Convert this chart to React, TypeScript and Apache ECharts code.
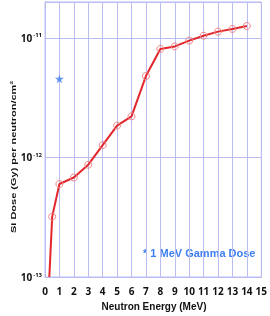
import React, { useEffect, useRef } from 'react';
import * as echarts from 'echarts';

// Neutron energy (MeV) and Si dose (Gy per neutron/cm^2)
const energies = [0.3, 0.5, 1, 2, 3, 4, 5, 6, 7, 8, 9, 10, 11, 12, 13, 14];
const doses = [1.0e-13, 3.2e-13, 6.0e-13, 6.8e-13, 8.7e-13, 1.27e-12, 1.85e-12, 2.21e-12, 4.8e-12, 8.1e-12, 8.5e-12, 9.5e-12, 1.045e-11, 1.13e-11, 1.19e-11, 1.26e-11];
const gammaEnergy = [1];
const gammaDose = [4.55e-12];
const minorGridValues = [2e-13, 3e-13, 4e-13, 5e-13, 6e-13, 7e-13, 8e-13, 9e-13, 2e-12, 3e-12, 4e-12, 5e-12, 6e-12, 7e-12, 8e-12, 9e-12];
const yTitle = 'Si Dose (Gy) per neutron/cm²';
const xTitle = 'Neutron Energy (MeV)';
const gammaLabel = '* 1 MeV Gamma Dose';

const GRID = '#b9bdf2';
const BLUE = '#3d7ef0';
const FONT = '"Open Sans"';
const TFONT = '"Liberation Sans", Arial';

export default function App() {
  const ref = useRef<HTMLDivElement>(null);
  useEffect(() => {
    const chart = echarts.init(ref.current!, null, { renderer: 'svg' });
    chart.setOption({
      animation: false,
      grid: { left: 45, right: 7, top: 2, bottom: 39, show: true, borderColor: GRID, borderWidth: 1 },
      xAxis: {
        type: 'value', min: 0, max: 15, interval: 1,
        axisLine: { show: true, lineStyle: { color: GRID } },
        axisTick: { show: false },
        splitLine: { show: true, lineStyle: { color: GRID, width: 1 } },
        axisLabel: { color: '#111', fontWeight: 'bold', fontSize: 10, fontFamily: FONT, margin: 9 },
      },
      yAxis: {
        type: 'log', logBase: 10, min: 1e-13, max: 2e-11,
        axisLine: { show: true, lineStyle: { color: GRID } },
        axisTick: { show: false },
        splitLine: { show: true, lineStyle: { color: GRID, width: 1 } },
        axisLabel: {
          margin: 3, showMaxLabel: false,
          formatter: (v: number) => {
            const e = Math.round(Math.log10(v));
            if (Math.abs(v - Math.pow(10, e)) / v > 1e-6) return '';
            return `{b|10}{s|${e}}`;
          },
          rich: {
            b: { fontSize: 10, fontWeight: 'bold', color: '#111', fontFamily: FONT },
            s: { fontSize: 6, fontWeight: 'bold', color: '#111', fontFamily: FONT, padding: [0, 0, 5, 1] },
          },
        },
      },
      series: [
        {
          type: 'line',
          data: energies.map((e, i) => (i === 0 ? { value: [e, doses[i]], symbol: 'none' } : [e, doses[i]])),
          symbol: 'circle', symbolSize: 7,
          lineStyle: { color: '#e3262b', width: 2 },
          itemStyle: { color: 'rgba(255,255,255,0)', borderColor: '#f08585', borderWidth: 1 },
          markLine: {
            silent: true, symbol: 'none', label: { show: false },
            lineStyle: { color: GRID, width: 1, type: 'solid' },
            data: minorGridValues.map((v) => ({ yAxis: v })),
          },
          z: 3,
        },
        {
          type: 'scatter',
          data: gammaEnergy.map((e, i) => [e, gammaDose[i]]),
          symbol: 'path://M50,0 L61,35 L98,35 L68,57 L79,91 L50,70 L21,91 L32,57 L2,35 L39,35 Z',
          symbolSize: 9,
          itemStyle: { color: BLUE },
          z: 4,
        },
      ],
      graphic: [
        {
          type: 'text', x: 13, y: 157, rotation: Math.PI / 2, scaleY: 0.72,
          style: { text: yTitle, fontSize: 11, fontWeight: 'bold', fontFamily: TFONT, fill: '#111', align: 'center', verticalAlign: 'middle' },
        },
        {
          type: 'text', x: 154, y: 306, scaleX: 0.91,
          style: { text: xTitle, fontSize: 11, fontWeight: 'bold', fontFamily: TFONT, fill: '#111', align: 'center', verticalAlign: 'middle' },
        },
        {
          type: 'text', x: 143, y: 253,
          style: { text: gammaLabel, fontSize: 11, fontWeight: 'bold', fontFamily: TFONT, fill: BLUE, align: 'left', verticalAlign: 'middle' },
        },
      ],
    });
    return () => chart.dispose();
  }, []);
  return <div ref={ref} style={{ position: 'fixed', left: 0, top: 0, width: 270, height: 316 }} />;
}
